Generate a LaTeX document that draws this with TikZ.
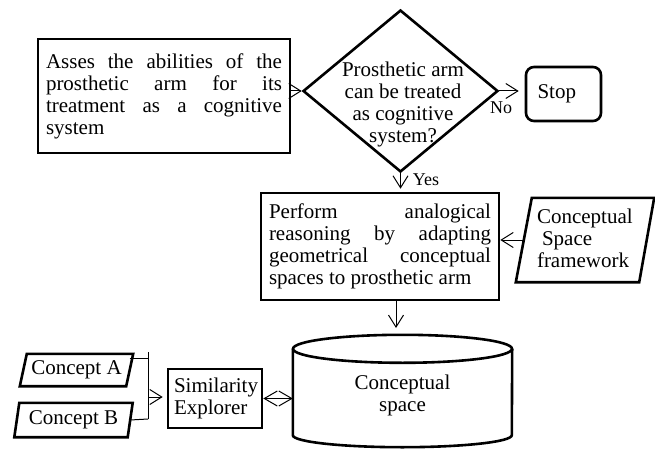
\documentclass[tikz,border=0pt]{standalone}
\usepackage{fontspec}
\setmainfont{Liberation Serif}
\usetikzlibrary{arrows.meta,shapes.geometric}
\begin{document}
\begin{tikzpicture}[x=1pt,y=-1pt,
  every node/.style={font=\fontsize{21}{22}\selectfont, inner sep=0pt},
  box/.style={draw, line width=2.6pt},
  conn/.style={line width=1pt},
  arr/.style={conn, -{Straight Barb[length=12pt,width=15pt,line width=1pt]}},
  small/.style={font=\fontsize{18}{20}\selectfont}]
\useasboundingbox (0,0) rectangle (655,449);

% process box
\node[box, text width=236pt, align=justify, inner xsep=8pt, minimum height=114pt] (assess) at (164,96)
  {Asses the abilities of the\linebreak prosthetic arm for its\linebreak treatment as a cognitive\linebreak system};

% decision
\node[draw, diamond, line width=2.6pt, minimum width=195pt, minimum height=162pt] (dec) at (400.5,91) {};
\node[align=center] (dectxt) at (403,104) {Prosthetic arm\\can be treated\\as cognitive\\system?};

% stop
\node[box, rounded corners=8pt, minimum width=75pt, minimum height=54pt, text width=52pt, align=left] (stop) at (563.5,94) {Stop};

% perform
\node[box, text width=222pt, inner xsep=8pt, align=justify, minimum height=107pt] (perform) at (380,246.5)
  {Perform analogical\linebreak reasoning by adapting\linebreak geometrical conceptual\linebreak spaces to prosthetic arm};

% conceptual space framework (parallelogram)
\node[text width=96pt, align=left, minimum width=122pt, minimum height=84pt] (csf) at (585,238)
  {Conceptual\\\hspace*{5pt}Space\\framework};
\draw[box] ([xshift=8pt,yshift=-2pt]csf.north west) -- ([xshift=8pt,yshift=-2pt]csf.north east) -- ([xshift=-7pt,yshift=-2pt]csf.south east) -- ([xshift=-8pt,yshift=-2pt]csf.south west) -- cycle;

% concepts
\node[minimum width=106pt, minimum height=32pt] (ca) at (76.5,370) {Concept A};
\draw[box] ([xshift=3.5pt]ca.north west) -- ([xshift=3.5pt]ca.north east) -- ([xshift=-3.5pt]ca.south east) -- ([xshift=-3.5pt]ca.south west) -- cycle;
\node[minimum width=113pt, minimum height=34pt] (cb) at (73.5,420) {Concept B};
\draw[box] ([xshift=2.5pt]cb.north west) -- ([xshift=2.5pt]cb.north east) -- ([xshift=-2.5pt]cb.south east) -- ([xshift=-2.5pt]cb.south west) -- cycle;

% similarity explorer
\node[box, minimum width=94pt, minimum height=59pt, text width=82pt, align=left] (sim) at (215,398.5) {Similarity\\Explorer};

% cylinder
\node[minimum width=219pt, minimum height=120pt, align=center] (cyl) at (402.5,395) {Conceptual\\space};
\draw[box] ([yshift=-14pt]cyl.north west) -- ([yshift=20pt]cyl.south west)
  arc[start angle=180, end angle=360, x radius=109.5pt, y radius=12pt] -- ([yshift=-14pt]cyl.north east);
\draw[box] ([yshift=-14pt]cyl.north) ellipse[x radius=109.5pt, y radius=14pt];

% connectors
\coordinate (m1) at (148,358);
\coordinate (m2) at (148,419);
\coordinate (mt) at (148,352);
\coordinate (mm) at (148,397);
\coordinate (ct) at (396,328);
\draw[conn] ([yshift=12pt]ca.east) -- (m1);
\draw[conn] (cb.east) -- (m2);
\draw[conn] (mt) -- (m2);
\draw[arr, shorten >=4pt] (mm) -- (mm -| sim.west);
\draw[conn, {Straight Barb[length=13pt,width=15pt,line width=1pt]}-{Straight Barb[length=13pt,width=15pt,line width=1pt]}] (sim.east) -- (sim.east -| cyl.west);

\draw[arr] (assess.east |- dec.west) -- (dec.west);
\draw[arr, shorten >=6pt] (dec.east) -- (dec.east -| stop.west);
\node[small] (no) at (501,108) {No};
\draw[arr, shorten >=3pt] (dec.south) -- (dec.south |- perform.north);
\node[small] (yes) at (426,180) {Yes};
\draw[arr] (perform.south -| ct) -- (ct);
\draw[arr] ([yshift=-2pt]csf.west) -- ([yshift=-2pt]csf.west -| perform.east);
\end{tikzpicture}
\end{document}
